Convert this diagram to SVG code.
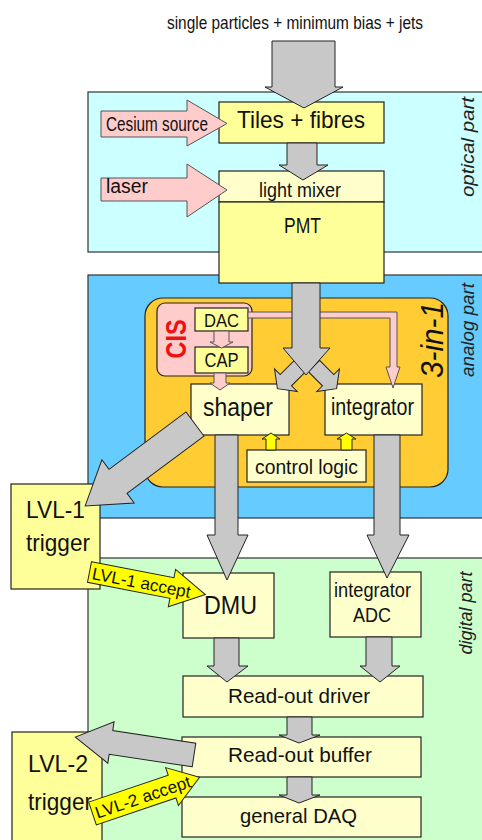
<svg xmlns="http://www.w3.org/2000/svg" width="482" height="840" viewBox="0 0 482 840">
<style>
text{font-family:"Liberation Sans",Arial,sans-serif;fill:#111}
.c{text-anchor:middle}
.box{stroke:#222;stroke-width:1.2}
.y1{fill:#FFFF99}
.y2{fill:#FFFFCC}
.panel{stroke:#333;stroke-width:1.2}
.side{font-style:italic;text-anchor:middle;fill:#222}
.gray{fill:#C8C8C8;stroke:#222;stroke-width:1}
.pink{fill:#FFCCCC;stroke:#555;stroke-width:1}
.yel{fill:#FFFF00;stroke:#222;stroke-width:1}
</style>
<rect width="482" height="840" fill="#FFFFFF"/>

<!-- panels -->
<g id="panels">
  <g id="optical-part">
    <rect class="panel" x="88" y="92" width="400" height="160" fill="#CCFFFF"/>
    <text class="side" font-size="19" textLength="100" lengthAdjust="spacingAndGlyphs" transform="translate(474,147) rotate(-90)">optical part</text>
  </g>
  <g id="analog-part">
    <rect class="panel" x="88" y="275" width="400" height="243" fill="#66CCFF"/>
    <text class="side" font-size="19" textLength="94" lengthAdjust="spacingAndGlyphs" transform="translate(474,330) rotate(-90)">analog part</text>
  </g>
  <g id="digital-part">
    <rect class="panel" x="88" y="558" width="400" height="290" fill="#CCFFCC"/>
    <text class="side" font-size="18" textLength="83" lengthAdjust="spacingAndGlyphs" transform="translate(472,613) rotate(-90)">digital part</text>
  </g>
</g>

<text id="source-label" class="c" x="295" y="29" font-size="19" textLength="256" lengthAdjust="spacingAndGlyphs">single particles + minimum bias + jets</text>

<!-- nodes -->
<g id="tiles">
  <rect class="box y1" x="219" y="102" width="165" height="41"/>
  <text class="c" x="301" y="128" font-size="24" textLength="128" lengthAdjust="spacingAndGlyphs">Tiles + fibres</text>
</g>
<g id="light-mixer">
  <rect class="box y2" x="219" y="171" width="165" height="31"/>
  <text class="c" x="300" y="196.5" font-size="21" textLength="82" lengthAdjust="spacingAndGlyphs">light mixer</text>
</g>
<g id="pmt">
  <rect class="box y1" x="219" y="202" width="165" height="81"/>
  <text class="c" x="302.5" y="233" font-size="22" textLength="37" lengthAdjust="spacingAndGlyphs">PMT</text>
</g>
<g id="three-in-one">
  <rect class="box" x="145" y="298" width="303" height="189" rx="18" fill="#FFCC33"/>
  <text font-size="31" font-style="italic" class="c" textLength="76" lengthAdjust="spacingAndGlyphs" transform="translate(443,340) rotate(-90)">3-in-1</text>
</g>
<g id="cis">
  <rect class="box" x="157" y="303" width="95" height="73" rx="8" fill="#FFCCCC"/>
  <text font-size="29" font-weight="bold" class="c" fill="#EE1111" style="fill:#EE1111" textLength="39" lengthAdjust="spacingAndGlyphs" transform="translate(186,339) rotate(-90)">CIS</text>
</g>
<g id="dac">
  <rect class="box y1" x="195" y="308" width="53" height="23"/>
  <text class="c" x="221.5" y="327" font-size="19" textLength="35" lengthAdjust="spacingAndGlyphs">DAC</text>
</g>
<g id="cap">
  <rect class="box y1" x="195" y="347" width="53" height="26"/>
  <text class="c" x="221.5" y="367" font-size="20" textLength="34" lengthAdjust="spacingAndGlyphs">CAP</text>
</g>
<g id="shaper">
  <rect class="box y2" x="191" y="384" width="98" height="51"/>
  <text class="c" x="238" y="416" font-size="25" textLength="70" lengthAdjust="spacingAndGlyphs">shaper</text>
</g>
<g id="integrator">
  <rect class="box y2" x="325" y="384" width="97" height="51"/>
  <text class="c" x="372.5" y="415" font-size="23" textLength="83" lengthAdjust="spacingAndGlyphs">integrator</text>
</g>
<g id="control-logic">
  <rect class="box y2" x="247" y="450" width="119" height="32"/>
  <text class="c" x="306.5" y="474" font-size="21" textLength="103" lengthAdjust="spacingAndGlyphs">control logic</text>
</g>
<g id="lvl1-trigger">
  <rect class="box y1" x="11" y="484" width="89" height="105"/>
  <text class="c" x="55.5" y="518" font-size="24" textLength="59" lengthAdjust="spacingAndGlyphs">LVL-1</text>
  <text class="c" x="58" y="551" font-size="24" textLength="64" lengthAdjust="spacingAndGlyphs">trigger</text>
</g>
<g id="dmu">
  <rect class="box y2" x="183" y="573" width="91" height="65"/>
  <text class="c" x="230.5" y="614" font-size="26" textLength="53" lengthAdjust="spacingAndGlyphs">DMU</text>
</g>
<g id="integrator-adc">
  <rect class="box y2" x="330" y="572" width="91" height="65"/>
  <text class="c" x="372.5" y="597" font-size="20" textLength="77" lengthAdjust="spacingAndGlyphs">integrator</text>
  <text class="c" x="372" y="622" font-size="20" textLength="38" lengthAdjust="spacingAndGlyphs">ADC</text>
</g>
<g id="readout-driver">
  <rect class="box y2" x="183" y="676" width="240" height="41"/>
  <text class="c" x="299" y="703" font-size="21" textLength="142" lengthAdjust="spacingAndGlyphs">Read-out driver</text>
</g>
<g id="readout-buffer">
  <rect class="box y2" x="182" y="737" width="239" height="40"/>
  <text class="c" x="300" y="762" font-size="21" textLength="144" lengthAdjust="spacingAndGlyphs">Read-out buffer</text>
</g>
<g id="general-daq">
  <rect class="box y2" x="182" y="797" width="239" height="40"/>
  <text class="c" x="298.5" y="823" font-size="21" textLength="117" lengthAdjust="spacingAndGlyphs">general DAQ</text>
</g>
<g id="lvl2-trigger">
  <rect class="box y1" x="12" y="732" width="90" height="115"/>
  <text class="c" x="58" y="772" font-size="24" textLength="60" lengthAdjust="spacingAndGlyphs">LVL-2</text>
  <text class="c" x="60" y="810" font-size="24" textLength="64" lengthAdjust="spacingAndGlyphs">trigger</text>
</g>

<!-- connectors -->
<g id="connectors">
  <g id="cesium-source">
    <polygon class="pink" points="101,111 187,111 187,100 227,123.5 187,146 187,137 101,137"/>
    <text x="106" y="131" font-size="20" textLength="102" lengthAdjust="spacingAndGlyphs">Cesium source</text>
  </g>
  <g id="laser">
    <polygon class="pink" points="101,178 187,178 187,164 227,190 187,217 187,201 101,201"/>
    <text x="106" y="193" font-size="20" textLength="42" lengthAdjust="spacingAndGlyphs">laser</text>
  </g>
  <polygon class="pink" points="214,331 229,331 229,342 233,342 221.5,348 210,342 214,342"/>
  <polygon class="pink" points="214,373 226,373 226,383 230,383 220,390 210,383 214,383"/>
  <polygon class="pink" points="248,312 397,312 397,367 400,367 393,388 386,367 390,367 390,318 248,318"/>
  <polygon class="yel" points="266,450 276,450 276,439 280,439 271,433 262,439 266,439"/>
  <polygon class="yel" points="341,450 352,450 352,439 356,439 346.5,433 337,439 341,439"/>
  <polygon class="gray" points="272,41 335,41 335,87 343,87 304,108 265,87 272,87"/>
  <polygon class="gray" points="287,143 317,143 317,165 328,165 303,180 279,165 287,165"/>
  <polygon class="gray" transform="translate(300,366) rotate(135)" points="0,-8 20,-8 20,-16 32,0 20,16 20,8 0,8"/>
  <polygon class="gray" transform="translate(314,366) rotate(45)" points="0,-8 20,-8 20,-16 32,0 20,16 20,8 0,8"/>
  <polygon class="gray" points="292,283 320,283 320,348 330,348 306,375 283,348 292,348"/>
  <polygon class="gray" transform="translate(195,424) rotate(143.3)" points="0,-15 96,-15 96,-27 137,0 96,27 96,15 0,15"/>
  <polygon class="gray" points="215,435 238,435 238,535 248,535 227,580 207,535 215,535"/>
  <polygon class="gray" points="374,435 400,435 400,535 409,535 387,578 367,535 374,535"/>
  <polygon class="gray" points="214,638 239,638 239,666 248,666 227,682 207,666 214,666"/>
  <polygon class="gray" points="366,637 392,637 392,666 400,666 380,682 360,666 366,666"/>
  <polygon class="gray" points="287,717 312,717 312,735 320,735 299,743 279,735 287,735"/>
  <polygon class="gray" points="287,777 312,777 312,795 320,795 299,803 279,795 287,795"/>
  <polygon class="gray" transform="translate(194,755) rotate(188.6)" points="0,-12 84,-12 84,-21 120,0 84,21 84,12 0,12"/>
  <g id="lvl1-accept" transform="translate(89.5,572) rotate(11)">
    <polygon class="yel" points="0,-10.5 84,-10.5 84,-19 118,0 84,19 84,10.5 0,10.5"/>
    <text x="3" y="6.5" font-size="17" textLength="100" lengthAdjust="spacingAndGlyphs">LVL-1 accept</text>
  </g>
  <g id="lvl2-accept" transform="translate(92.5,813.5) rotate(-18.7)">
    <polygon class="yel" points="0,-12 84,-12 84,-20 113,0 84,20 84,12 0,12"/>
    <text x="3" y="6.5" font-size="17" textLength="100" lengthAdjust="spacingAndGlyphs">LVL-2 accept</text>
  </g>
</g>
</svg>
